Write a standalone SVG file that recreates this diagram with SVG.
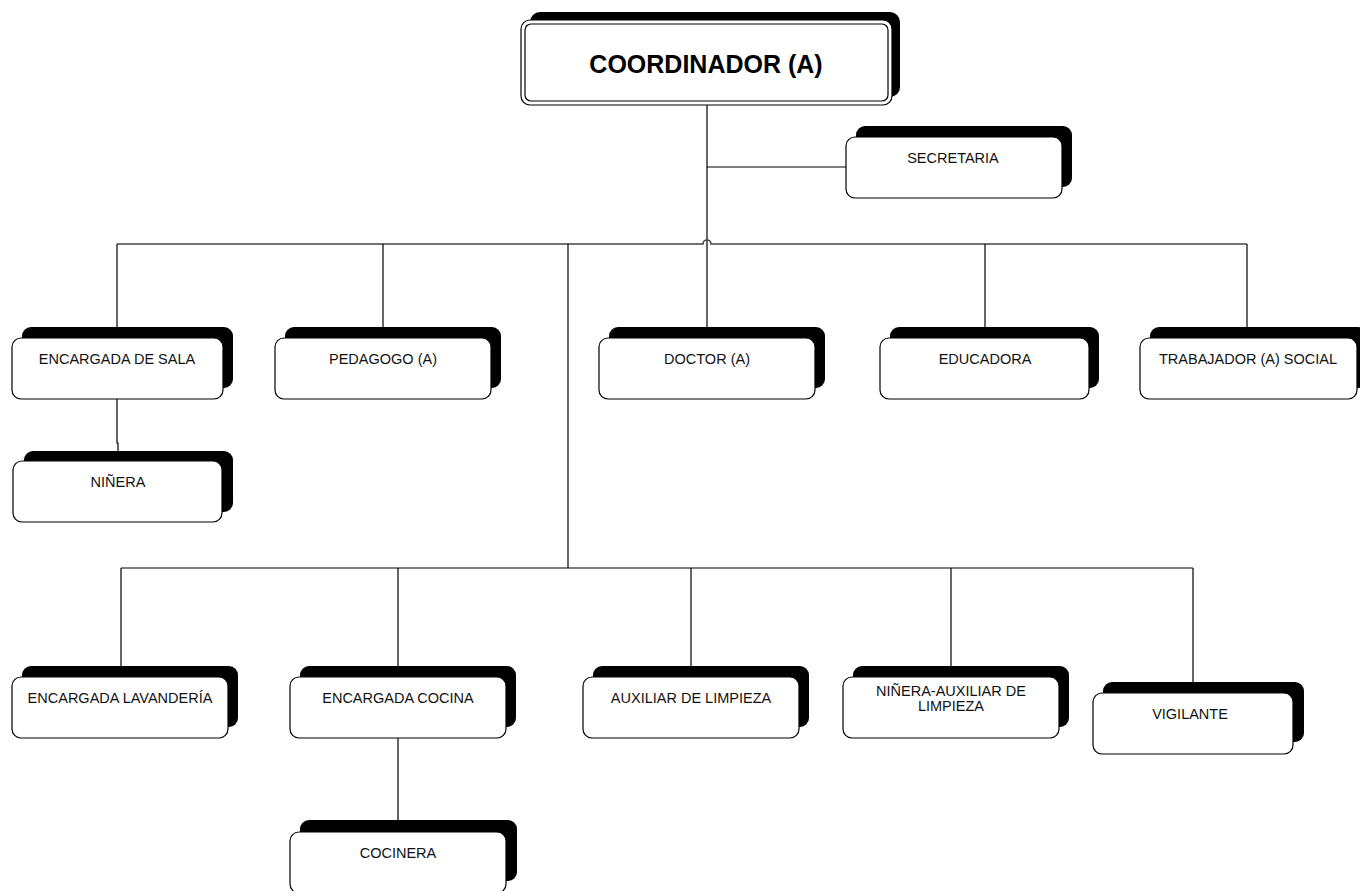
<svg xmlns="http://www.w3.org/2000/svg" width="1360" height="891" viewBox="0 0 1360 891">
<style>
.sh{fill:#000;}
.bx{fill:#fff;stroke:#000;stroke-width:1.2;}
.t{font-family:"Liberation Sans",Arial,sans-serif;font-size:14.5px;fill:#111;text-anchor:middle;}
.tb{font-family:"Liberation Sans",Arial,sans-serif;font-size:25px;font-weight:bold;fill:#000;text-anchor:middle;}
.ln{fill:none;stroke:#000;stroke-width:1.2;}
.lg{fill:none;stroke:#444;stroke-width:1.6;}
</style>
<rect width="1360" height="891" fill="#fff"/>
<g id="connectors">
<path class="ln" d="M707,105 V338"/>
<path class="ln" d="M707,167 H846"/>
<path class="lg" d="M117,244 H703 A4,4 0 0 1 711,244 H1247"/>
<path class="ln" d="M117,244 V338"/>
<path class="ln" d="M383,244 V338"/>
<path class="ln" d="M985,244 V338"/>
<path class="ln" d="M1247,244 V338"/>
<path class="ln" d="M568,244 V568"/>
<path class="ln" d="M117,399 V443 H118 V461"/>
<path class="ln" d="M121,568 H1193"/>
<path class="ln" d="M121,568 V677"/>
<path class="ln" d="M398,568 V677"/>
<path class="ln" d="M691,568 V677"/>
<path class="ln" d="M951,568 V677"/>
<path class="ln" d="M1193,568 V693"/>
<path class="ln" d="M398,738 V832"/>
</g>
<g id="coordinador">
<rect class="sh" x="530" y="12" width="370" height="85" rx="10"/>
<rect class="bx" x="521" y="20" width="371" height="85" rx="9"/>
<rect class="bx" x="525" y="24" width="363" height="77" rx="6"/>
<text class="tb" x="706" y="73">COORDINADOR (A)</text>
</g>
<g id="secretaria">
<rect class="sh" x="856" y="126" width="216" height="61" rx="9"/>
<rect class="bx" x="846" y="137" width="216" height="61" rx="9"/>
<text class="t" x="953" y="163">SECRETARIA</text>
</g>
<g id="encargada-sala">
<rect class="sh" x="22" y="327" width="211" height="61" rx="9"/>
<rect class="bx" x="12" y="338" width="211" height="61" rx="9"/>
<text class="t" x="117" y="364">ENCARGADA DE SALA</text>
</g>
<g id="ninera">
<rect class="sh" x="24" y="451" width="209" height="61" rx="9"/>
<rect class="bx" x="13" y="461" width="209" height="61" rx="9"/>
<text class="t" x="118" y="487">NIÑERA</text>
</g>
<g id="pedagogo">
<rect class="sh" x="285" y="327" width="216" height="61" rx="9"/>
<rect class="bx" x="275" y="338" width="216" height="61" rx="9"/>
<text class="t" x="383" y="364">PEDAGOGO (A)</text>
</g>
<g id="doctor">
<rect class="sh" x="609" y="327" width="216" height="61" rx="9"/>
<rect class="bx" x="599" y="338" width="216" height="61" rx="9"/>
<text class="t" x="707" y="364">DOCTOR (A)</text>
</g>
<g id="educadora">
<rect class="sh" x="890" y="327" width="209" height="61" rx="9"/>
<rect class="bx" x="880" y="338" width="209" height="61" rx="9"/>
<text class="t" x="985" y="364">EDUCADORA</text>
</g>
<g id="trabajador-social">
<rect class="sh" x="1150" y="327" width="217" height="61" rx="9"/>
<rect class="bx" x="1140" y="338" width="217" height="61" rx="9"/>
<text class="t" x="1248" y="364">TRABAJADOR (A) SOCIAL</text>
</g>
<g id="encargada-lavanderia">
<rect class="sh" x="22" y="666" width="216" height="61" rx="9"/>
<rect class="bx" x="12" y="677" width="216" height="61" rx="9"/>
<text class="t" x="120" y="703">ENCARGADA LAVANDERÍA</text>
</g>
<g id="encargada-cocina">
<rect class="sh" x="300" y="666" width="216" height="61" rx="9"/>
<rect class="bx" x="290" y="677" width="216" height="61" rx="9"/>
<text class="t" x="398" y="703">ENCARGADA COCINA</text>
</g>
<g id="auxiliar-limpieza">
<rect class="sh" x="593" y="666" width="216" height="61" rx="9"/>
<rect class="bx" x="583" y="677" width="216" height="61" rx="9"/>
<text class="t" x="691" y="703">AUXILIAR DE LIMPIEZA</text>
</g>
<g id="ninera-auxiliar">
<rect class="sh" x="853" y="666" width="216" height="61" rx="9"/>
<rect class="bx" x="843" y="677" width="216" height="61" rx="9"/>
<text class="t" x="951" y="696">NIÑERA-AUXILIAR DE</text>
<text class="t" x="951" y="711">LIMPIEZA</text>
</g>
<g id="vigilante">
<rect class="sh" x="1103" y="682" width="201" height="60" rx="9"/>
<rect class="bx" x="1093" y="693" width="200" height="61" rx="9"/>
<text class="t" x="1190" y="719">VIGILANTE</text>
</g>
<g id="cocinera">
<rect class="sh" x="300" y="820" width="217" height="61" rx="9"/>
<rect class="bx" x="290" y="832" width="216" height="61" rx="9"/>
<text class="t" x="398" y="858">COCINERA</text>
</g>
</svg>
